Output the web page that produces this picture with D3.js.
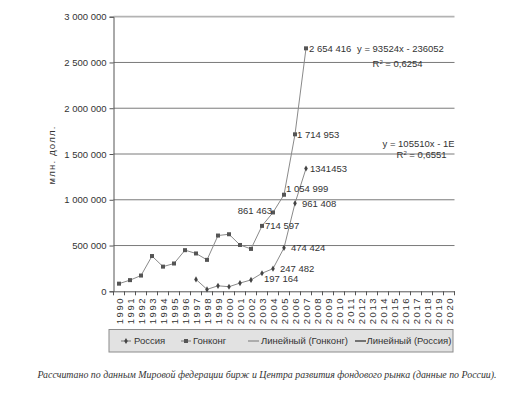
<!DOCTYPE html>
<html><head><meta charset="utf-8">
<script src="https://cdn.jsdelivr.net/npm/d3@7"></script>
<style>
body{margin:0;background:#fff;}
svg{display:block;}
text{font-family:"Liberation Sans",Arial,sans-serif;fill:#333;}
</style></head>
<body>
<svg id="c" width="508" height="399"></svg>
<script>
const years = d3.range(1990, 2021);
const hkYears = d3.range(1990, 2008);
const hkValues = [83397,121986,172106,385247,269508,303705,449381,413323,343394,609090,623398,506073,463055,714597,861463,1054999,1714953,2654416];
const ruYears = d3.range(1997, 2008);
const ruValues = [130000,21000,60000,50000,90000,124000,197164,247482,474424,961408,1341453];
const hkLabels = {2003:"714 597",2004:"861 463",2005:"1 054 999",2006:"1 714 953",2007:"2 654 416"};
const ruLabels = {2003:"197 164",2004:"247 482",2005:"474 424",2006:"961 408",2007:"1341453"};
const yTicks = [0,500000,1000000,1500000,2000000,2500000,3000000];
const yTickLabels = ["0","500 000","1 000 000","1 500 000","2 000 000","2 500 000","3 000 000"];
const hkEquation = ["y = 93524x - 236052","0,6254"];
const ruEquation = ["y = 105510x - 1E+0","0,6551"];
const legendItems = ["Россия","Гонконг","Линейный (Гонконг)","Линейный (Россия)"];
const yTitle = "млн. долл.";
const caption = "Рассчитано по данным Мировой федерации бирж и Центра развития фондового рынка (данные по России).";

const svg = d3.select("#c");
const L = 113.5, R = 454.5, T = 16.7, B = 291.3;
const x = d3.scaleBand().domain(years).range([L, R]).padding(0);
const cx = d => x(d) + x.bandwidth()/2;
const y = d3.scaleLinear().domain([0,3000000]).range([B, T]);
const FS = 9.5;

// gridlines
svg.append("g").selectAll("line").data(yTicks.slice(1)).join("line")
  .attr("x1", L).attr("x2", R).attr("y1", d=>y(d)).attr("y2", d=>y(d))
  .attr("stroke", d => d===3000000 ? "#b3b3b3" : "#7a7a7a")
  .attr("stroke-width", d => d===3000000 ? 1.8 : 1);

// y axis
const ya = svg.append("g").attr("transform", `translate(${L},0)`)
  .call(d3.axisLeft(y).tickValues(yTicks).tickSize(4).tickPadding(3).tickFormat((d,i)=>yTickLabels[i]));
ya.select(".domain").attr("stroke","#555");
ya.selectAll(".tick line").attr("stroke","#555");
ya.selectAll("text").style("font-size",FS+"px").attr("fill","#333").style("font-family","Liberation Sans");

// x axis
const xa = svg.append("g").attr("transform", `translate(0,${B})`)
  .call(d3.axisBottom(x).tickSize(0).tickFormat(""));
xa.select(".domain").attr("stroke","#555");
xa.selectAll(".tick").remove();
svg.append("g").selectAll("line").data(years.concat([2021])).join("line")
  .attr("x1", d => d===2021 ? R : x(d)).attr("x2", d => d===2021 ? R : x(d))
  .attr("y1", B).attr("y2", B+4).attr("stroke","#555");
svg.append("g").selectAll("text").data(years).join("text")
  .attr("transform", d => `translate(${cx(d)+0.5},${B+5.5}) rotate(-90)`)
  .attr("text-anchor","end").attr("dy","0.35em")
  .style("font-size",FS+"px").style("letter-spacing","1.6px")
  .text(d=>d);

// y title
svg.append("text").attr("transform","translate(52,155) rotate(-90)")
  .attr("text-anchor","middle").attr("dy","0.35em")
  .style("font-size",FS+"px").style("letter-spacing","1.2px").text(yTitle);

// series
const line = d3.line();
const hk = hkYears.map((yr,i)=>[cx(yr), y(hkValues[i])]);
const ru = ruYears.map((yr,i)=>[cx(yr), y(ruValues[i])]);
svg.append("path").attr("d", line(hk)).attr("fill","none").attr("stroke","#8a8a8a").attr("stroke-width",1);
svg.append("path").attr("d", line(ru)).attr("fill","none").attr("stroke","#8a8a8a").attr("stroke-width",1);
svg.append("g").selectAll("rect").data(hk).join("rect")
  .attr("x", d=>d[0]-2).attr("y", d=>d[1]-2).attr("width",4).attr("height",4).attr("fill","#555");
const dia = d3.symbol().type(d3.symbolDiamond).size(11);
svg.append("g").selectAll("path").data(ru).join("path")
  .attr("transform", d=>`translate(${d[0]},${d[1]})`).attr("d", dia).attr("fill","#444");

// data labels
const lab = (yr, v, text, dx, dy, anchor) => svg.append("text")
  .attr("x", cx(yr)+dx).attr("y", y(v)+dy).attr("dy","0.35em")
  .attr("text-anchor", anchor||"start").style("font-size",FS+"px").text(text);
const hkOff = {2003:[3,0,"start"],2004:[-1,-2,"end"],2005:[2,-6,"start"],2006:[2,0,"start"],2007:[3,0,"start"]};
const ruOff = {2003:[2,5,"start"],2004:[7,0,"start"],2005:[7,0,"start"],2006:[7,0,"start"],2007:[4,0,"start"]};
hkYears.forEach((yr,i)=>{ if(hkLabels[yr]) lab(yr, hkValues[i], hkLabels[yr], ...hkOff[yr]); });
ruYears.forEach((yr,i)=>{ if(ruLabels[yr]) lab(yr, ruValues[i], ruLabels[yr], ...ruOff[yr]); });

// equations
const clip = svg.append("clipPath").attr("id","pc").append("rect").attr("x",0).attr("y",0).attr("width",R).attr("height",399);
const eq = (txt, r2, x0, y0, xr, yr) => {
  const g = svg.append("g").attr("clip-path","url(#pc)");
  g.append("text").attr("x",x0).attr("y",y0).attr("dy","0.35em").style("font-size",FS+"px").text(txt);
  const t = g.append("text").attr("x",xr).attr("y",yr).attr("dy","0.35em").style("font-size",FS+"px");
  t.append("tspan").text("R");
  t.append("tspan").attr("dy","-3").style("font-size","6px").text("2");
  t.append("tspan").attr("dy","3").text(" = " + r2);
};
eq(hkEquation[0], hkEquation[1], 357, 48.5, 372.5, 63.5);
eq(ruEquation[0], ruEquation[1], 382.5, 143.5, 396.5, 155);

// legend
const lg = svg.append("g");
lg.append("rect").attr("x",109).attr("y",329.5).attr("width",344).attr("height",22.5)
  .attr("fill","#e2e2e2").attr("stroke","#8c8c8c").attr("stroke-width",1);
const ly = 341;
const items = [
  {x1:121, t:134, kind:"ru"},
  {x1:181, t:193, kind:"hk"},
  {x1:248, t:261, kind:"l1"},
  {x1:355, t:366.5, kind:"l2"}
];
items.forEach((it,i)=>{
  const x2 = it.kind==="ru"||it.kind==="hk" ? it.x1+10 : it.x1+11;
  lg.append("line").attr("x1",it.x1).attr("x2",x2).attr("y1",ly).attr("y2",ly)
    .attr("stroke", it.kind==="l2" ? "#444" : (it.kind==="l1" ? "#777" : "#777"))
    .attr("stroke-width", it.kind==="l2" ? 1.4 : 1);
  const mx = (it.x1+x2)/2;
  if(it.kind==="hk") lg.append("rect").attr("x",mx-2).attr("y",ly-2).attr("width",4).attr("height",4).attr("fill","#555");
  if(it.kind==="ru") lg.append("path").attr("transform",`translate(${mx},${ly})`).attr("d",dia).attr("fill","#444");
  lg.append("text").attr("x",it.t).attr("y",ly).attr("dy","0.35em").style("font-size",FS+"px").text(legendItems[i]);
});

// caption
const cap = svg.append("text").attr("x",267).attr("y",375).attr("dy","0.35em").attr("text-anchor","middle")
  .style("font-family","'Liberation Serif','DejaVu Serif',serif").style("font-style","italic")
  .style("font-size","10.5px").attr("fill","#222").text(caption);
const w = cap.node().getComputedTextLength();
cap.style("font-size", (10.5*460/w).toFixed(2)+"px");
</script>
</body></html>
